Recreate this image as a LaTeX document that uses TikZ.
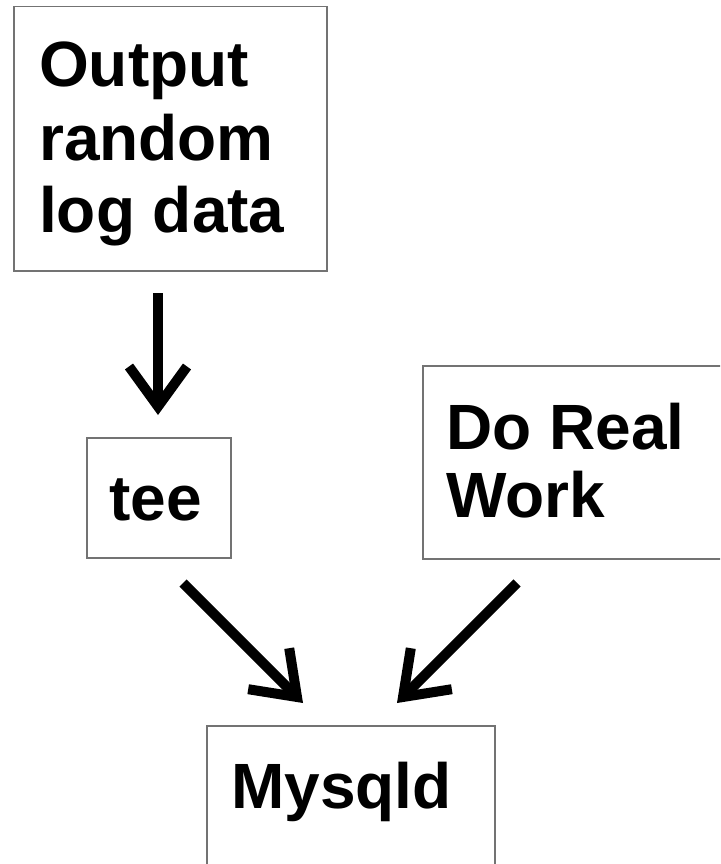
\documentclass[tikz,border=0pt]{standalone}
\usepackage{fontspec}
\setmainfont{Liberation Sans}
\usetikzlibrary{arrows.meta}
\begin{document}
\begin{tikzpicture}[x=1pt,y=-1pt,
  box/.style={draw=black!55, line width=1.5pt, anchor=north west, inner sep=0pt},
  lbl/.style={anchor=base west, inner sep=0pt, font=\fontsize{64}{74}\selectfont\bfseries},
  arr/.style={line width=10pt, -{Straight Barb[sharp,length=40pt,width=58pt]}}]
\clip (0,0) rectangle (720,864);
% boxes
\node[box, minimum width=313pt, minimum height=264pt] (outbox) at (13,6) {};
\node[box, minimum width=144pt, minimum height=120pt] (teebox) at (86,437) {};
\node[box, minimum width=320pt, minimum height=193pt] (workbox) at (422,365) {};
\node[box, minimum width=288pt, minimum height=160pt] (sqlbox) at (206,725) {};
% texts
\node[lbl] (t1) at (39,87) {Output};
\node[lbl] (t2) at (39,160) {random};
\node[lbl] (t3) at (39,232) {log data};
\node[lbl] (t4) at (109,520) {tee};
\node[lbl] (t5) at (446,449) {Do Real};
\node[lbl] (t6) at (446,517) {Work};
\node[lbl] (t7) at (231,808) {Mysqld};
% connectors
\coordinate (a1s) at (158,293);
\coordinate (a1e) at (158,415);
\coordinate (a2s) at (183,583);
\coordinate (a2e) at (303,703);
\coordinate (a3s) at (517,583);
\coordinate (a3e) at (397,703);
\draw[arr] (a1s) -- (a1e);
\draw[arr] (a2s) -- (a2e);
\draw[arr] (a3s) -- (a3e);
\end{tikzpicture}
\end{document}
